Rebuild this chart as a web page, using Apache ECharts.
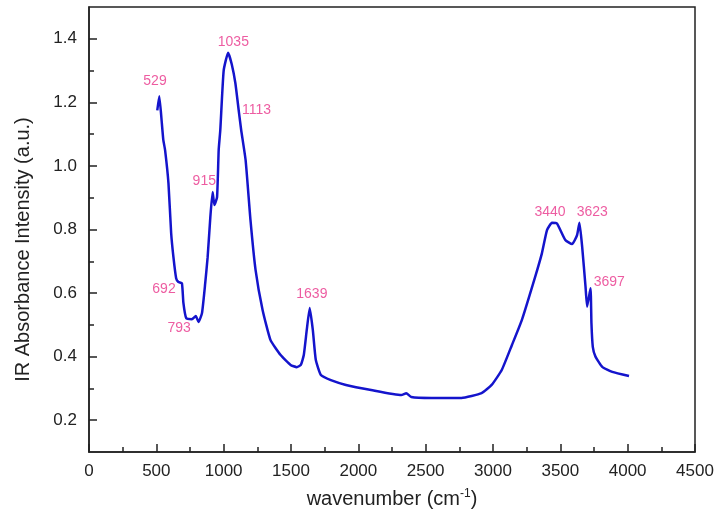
<!DOCTYPE html>
<html>
<head>
<meta charset="utf-8">
<script src="https://cdn.jsdelivr.net/npm/echarts@6/dist/echarts.min.js"></script>
<style>html,body{margin:0;padding:0;background:#fff}#c{width:718px;height:528px}</style>
</head>
<body>
<div id="c"></div>
<script>
const wavenumber = [507, 522, 540, 552, 565, 590, 610, 627, 647, 664, 690, 701, 722, 764, 793, 813, 839, 863, 881, 901, 918, 931, 951, 963, 975, 1000, 1033, 1060, 1087, 1113, 1130, 1163, 1199, 1237, 1289, 1348, 1423, 1497, 1543, 1573, 1595, 1617, 1639, 1662, 1684, 1722, 1796, 1908, 2095, 2319, 2356, 2393, 2542, 2766, 2915, 2990, 3065, 3140, 3214, 3313, 3363, 3401, 3438, 3475, 3537, 3587, 3624, 3642, 3662, 3687, 3699, 3724, 3731, 3741, 3761, 3811, 3886, 4010];
const absorbance = [1.175, 1.219, 1.139, 1.081, 1.05, 0.946, 0.789, 0.713, 0.647, 0.635, 0.631, 0.569, 0.521, 0.518, 0.528, 0.509, 0.537, 0.631, 0.713, 0.839, 0.918, 0.877, 0.902, 1.05, 1.113, 1.30, 1.356, 1.32, 1.26, 1.17, 1.113, 1.018, 0.83, 0.672, 0.547, 0.452, 0.405, 0.374, 0.367, 0.374, 0.405, 0.484, 0.553, 0.484, 0.39, 0.342, 0.326, 0.311, 0.295, 0.279, 0.285, 0.273, 0.27, 0.27, 0.285, 0.311, 0.358, 0.436, 0.515, 0.651, 0.725, 0.798, 0.821, 0.819, 0.767, 0.754, 0.782, 0.821, 0.746, 0.62, 0.557, 0.615, 0.505, 0.431, 0.4, 0.368, 0.352, 0.339];
const peakLabels = ['529', '1035', '1113', '915', '692', '793', '1639', '3440', '3623', '3697'];
const peakLabelX = [490, 1072, 1244, 856, 557, 670, 1655, 3423, 3737, 3863];
const peakLabelY = [1.267, 1.389, 1.175, 0.952, 0.613, 0.49, 0.597, 0.855, 0.855, 0.635];
const yMajorTicks = [0.2, 0.4, 0.6, 0.8, 1.0, 1.2, 1.4];
const yMinorTicks = [0.3, 0.5, 0.7, 0.9, 1.1, 1.3];
const xMinorTicks = [250, 750, 1250, 1750, 2250, 2750, 3250, 3750, 4250];

const font = 'Liberation Sans, Arial, sans-serif';
const ink = '#222';
const chart = echarts.init(document.getElementById('c'));
const lineData = wavenumber.map((w, i) => [w, absorbance[i]]);
const labelData = peakLabels.map((t, i) => ({ name: t, value: [peakLabelX[i], peakLabelY[i]] }));

chart.setOption({
  animation: false,
  backgroundColor: '#fff',
  grid: { left: 89, right: 23, top: 7, bottom: 76, show: true, borderColor: ink, borderWidth: 1.5, backgroundColor: 'transparent' },
  xAxis: [{
    type: 'value', min: 0, max: 4500, interval: 500,
    name: 'wavenumber (cm{sup|-1})', nameLocation: 'middle', nameGap: 36,
    nameTextStyle: { fontFamily: font, fontSize: 20, color: ink, rich: { sup: { fontFamily: font, fontSize: 12, verticalAlign: 'top', padding: [0, 0, 10, 0], color: ink } } },
    axisLine: { lineStyle: { color: ink, width: 1.5 } },
    axisTick: { inside: true, length: 8, lineStyle: { color: ink, width: 1.5 } },
    axisLabel: { fontFamily: font, fontSize: 17, color: ink, margin: 11, formatter: v => String(v) },
    splitLine: { show: false }
  }, {
    type: 'value', min: 0, max: 4500, position: 'bottom',
    axisLine: { show: false },
    axisTick: { inside: true, length: 5, customValues: xMinorTicks, lineStyle: { color: ink, width: 1.5 } },
    axisLabel: { show: false },
    splitLine: { show: false }
  }],
  yAxis: [{
    type: 'value', min: 0.1, max: 1.5,
    name: 'IR Absorbance Intensity (a.u.)', nameLocation: 'middle', nameGap: 56,
    nameTextStyle: { fontFamily: font, fontSize: 20, color: ink, padding: [0, 40, 0, 0] },
    axisLine: { lineStyle: { color: ink, width: 1.5 } },
    axisTick: { inside: true, length: 8, customValues: yMajorTicks, lineStyle: { color: ink, width: 1.5 } },
    axisLabel: { fontFamily: font, fontSize: 17, color: ink, margin: 12, customValues: yMajorTicks, formatter: v => v.toFixed(1) },
    splitLine: { show: false }
  }, {
    type: 'value', min: 0.1, max: 1.5, position: 'left',
    axisLine: { show: false },
    axisTick: { inside: true, length: 5, customValues: yMinorTicks, lineStyle: { color: ink, width: 1.5 } },
    axisLabel: { show: false },
    splitLine: { show: false }
  }],
  series: [{
    type: 'line', data: lineData, showSymbol: false, smooth: 0.15,
    lineStyle: { color: '#1414cc', width: 2.5 }, z: 3
  }, {
    type: 'scatter', data: labelData, symbolSize: 0,
    label: { show: true, position: 'inside', formatter: p => p.name, fontFamily: font, fontSize: 14, color: '#e8338a' },
    z: 4
  }]
});
</script>
</body>
</html>
